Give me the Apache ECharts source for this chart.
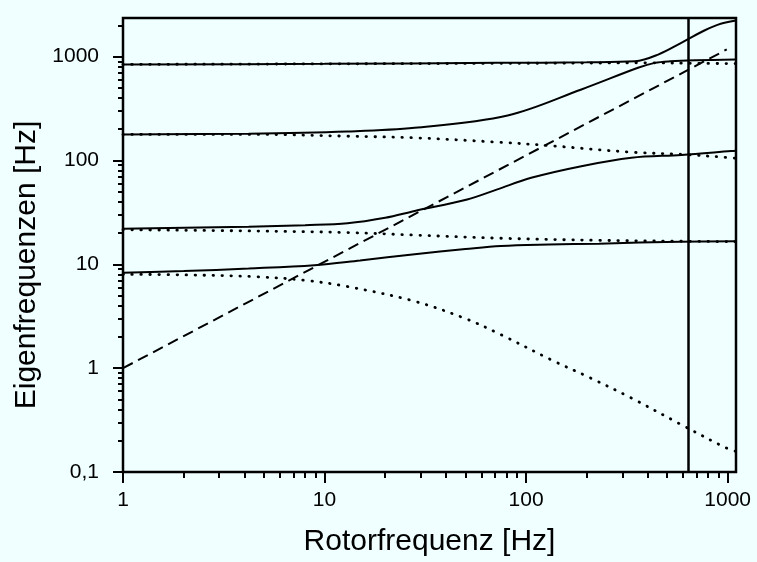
<!DOCTYPE html>
<html>
<head>
<meta charset="utf-8">
<script src="https://cdn.jsdelivr.net/npm/echarts@6/dist/echarts.min.js"></script>
<style>
html, body { margin: 0; padding: 0; background: #f0ffff; }
#chart { width: 757px; height: 562px; }
</style>
</head>
<body>
<div id="chart"></div>
<script>
// Campbell-Diagramm: Eigenfrequenzen ueber Rotorfrequenz (log-log)
var xMin = 1, xMax = 1100;
var yMin = 0.1, yMax = 2350;
var xTicks = [1, 10, 100, 1000];
var xTickLabels = ['1', '10', '100', '1000'];
var yTicks = [0.1, 1, 10, 100, 1000];
var yTickLabels = ['0,1', '1', '10', '100', '1000'];
var rotorLimit = 640;

// Gleichlauf (durchgezogen)
var fw1 = [[1, 8.3], [2, 8.6], [4.2, 9.1], [8.9, 9.8], [15, 10.9], [28, 12.5], [50, 14.0], [75, 15.0], [130, 15.5], [230, 15.8], [580, 16.5], [1100, 16.7]];
var fw2 = [[1, 22], [4.2, 23], [8, 23.8], [13, 24.8], [20, 28], [28, 32.6], [51, 42], [72, 52.6], [106, 68], [188, 88], [333, 106], [590, 113], [1040, 123], [1100, 124]];
var fw3 = [[1, 178], [4.2, 181], [13, 190], [28, 206], [81, 271], [188, 482], [359, 779], [435, 869], [520, 900], [700, 920], [1100, 935]];
var fw4 = [[1, 840], [10, 850], [72, 870], [200, 880], [347, 900], [452, 1045], [601, 1384], [771, 1791], [897, 2030], [1100, 2220]];
// Gegenlauf (gepunktet)
var bw1 = [[1, 8.0], [2, 7.9], [4.5, 7.6], [8, 7.0], [13, 6.1], [28, 4.4], [50, 3.0], [75, 2.1], [136, 1.18], [207, 0.81], [330, 0.52], [580, 0.29], [968, 0.173], [1100, 0.158]];
var bw2 = [[1, 21.5], [4.5, 20.9], [13, 20.2], [28, 19.1], [75, 17.8], [228, 17.0], [524, 16.7], [1100, 16.5]];
var bw3 = [[1, 178], [4.5, 178], [13, 171], [28, 165], [72, 150], [129, 139], [332, 120], [613, 114], [1040, 106], [1100, 105]];
var bw4 = [[1, 840], [10, 850], [72, 860], [200, 865], [400, 870], [700, 860], [1100, 855]];
// Anregung (gestrichelt)
var excitation = [[1, 1], [990, 1170]];

var font = 'Liberation Sans, Arial, sans-serif';

function minorTicks(majors, max) {
    var out = [];
    for (var i = 0; i < majors.length; i++)
        for (var k = 2; k <= 9; k++)
            if (majors[i] * k <= max) out.push(Math.log10(majors[i] * k));
    return out;
}
function logs(a) { return a.map(function (v) { return Math.log10(v); }); }

function solid(data) {
    return {
        type: 'line', data: data, xAxisIndex: 0, yAxisIndex: 0,
        smooth: 0.35, showSymbol: false, symbol: 'none',
        lineStyle: { color: '#000', width: 2 }
    };
}
function dotted(data) {
    return {
        type: 'line', data: data, xAxisIndex: 0, yAxisIndex: 0,
        smooth: 0.35, showSymbol: false, symbol: 'none',
        lineStyle: { color: '#000', width: 2.8, type: [0.5, 8.5], cap: 'round' }
    };
}

var myChart = echarts.init(document.getElementById('chart'));

var tickStyle = { color: '#000', width: 2 };
var noLine = { show: false, onZero: false };

option = {
    backgroundColor: '#f0ffff',
    animation: false,
    grid: {
        left: 123, right: 21, top: 18, bottom: 89,
        show: true, borderColor: '#000', borderWidth: 2.5, backgroundColor: 'transparent'
    },
    xAxis: [{
        type: 'log', min: xMin, max: xMax, logBase: 10, show: false
    }, {
        // Hauptstriche + Beschriftung
        type: 'value', min: Math.log10(xMin), max: Math.log10(xMax), position: 'bottom',
        axisLine: noLine, splitLine: { show: false },
        axisTick: { show: true, length: 11, lineStyle: tickStyle, customValues: logs(xTicks) },
        axisLabel: {
            show: true, margin: 18, color: '#000', fontFamily: font, fontSize: 21,
            customValues: logs(xTicks),
            formatter: function (v) { return xTickLabels[Math.round(v)]; }
        },
        name: 'Rotorfrequenz [Hz]', nameLocation: 'middle', nameGap: 55,
        nameTextStyle: { color: '#000', fontFamily: font, fontSize: 30 }
    }, {
        // Nebenstriche
        type: 'value', min: Math.log10(xMin), max: Math.log10(xMax), position: 'bottom',
        axisLine: noLine, splitLine: { show: false }, axisLabel: { show: false },
        axisTick: { show: true, length: 6, lineStyle: tickStyle, customValues: minorTicks(xTicks, xMax) }
    }],
    yAxis: [{
        type: 'log', min: yMin, max: yMax, logBase: 10, show: false
    }, {
        type: 'value', min: Math.log10(yMin), max: Math.log10(yMax), position: 'left',
        axisLine: noLine, splitLine: { show: false },
        axisTick: { show: true, length: 10, lineStyle: tickStyle, customValues: logs(yTicks) },
        axisLabel: {
            show: true, margin: 24, color: '#000', fontFamily: font, fontSize: 21,
            customValues: logs(yTicks),
            formatter: function (v) { return yTickLabels[Math.round(v) + 1]; }
        },
        name: 'Eigenfrequenzen [Hz]', nameLocation: 'middle', nameGap: 80,
        nameTextStyle: { color: '#000', fontFamily: font, fontSize: 30, padding: [0, 40, 0, 0] }
    }, {
        type: 'value', min: Math.log10(yMin), max: Math.log10(yMax), position: 'left',
        axisLine: noLine, splitLine: { show: false }, axisLabel: { show: false },
        axisTick: { show: true, length: 5, lineStyle: tickStyle, customValues: minorTicks(yTicks, yMax) }
    }],
    series: [
        solid(fw1), solid(fw2), solid(fw3), solid(fw4),
        dotted(bw1), dotted(bw2), dotted(bw3), dotted(bw4),
        {
            type: 'line', data: excitation, xAxisIndex: 0, yAxisIndex: 0,
            showSymbol: false, symbol: 'none',
            lineStyle: { color: '#000', width: 2, type: [11, 6] },
            markLine: {
                silent: true, symbol: 'none', label: { show: false },
                lineStyle: { color: '#000', width: 2.5, type: 'solid' },
                data: [{ xAxis: rotorLimit }]
            }
        }
    ]
};

myChart.setOption(option);
</script>
</body>
</html>
